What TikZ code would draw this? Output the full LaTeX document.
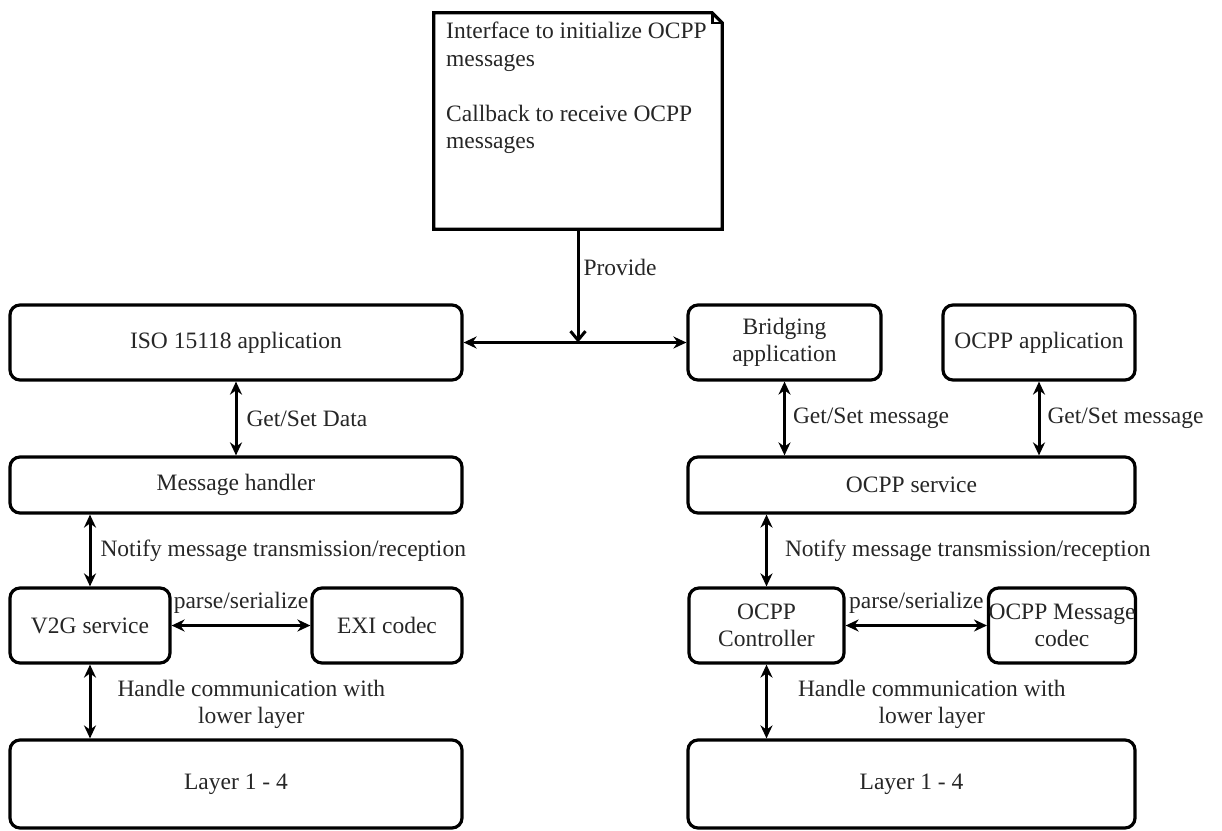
\documentclass[tikz,border=0pt]{standalone}
\usepackage{fontspec}
\setmainfont{Liberation Serif}
\usetikzlibrary{arrows.meta}
\begin{document}
\begin{tikzpicture}[x=1pt,y=-1pt,
  every node/.style={font=\fontsize{23.5}{27.5}\selectfont, text=black!85},
  blk/.style={draw=black, line width=3.2pt, rounded corners=10pt, fill=white, align=center, inner sep=0pt},
  biarr/.style={line width=3pt, {Stealth[length=13pt,width=12pt]}-{Stealth[length=13pt,width=12pt]}},
  openarr/.style={line width=3pt, -{Straight Barb[length=9pt,width=15pt,line width=3pt]}},
  lbl/.style={inner sep=0pt, align=center}]
\useasboundingbox (0,0) rectangle (1222,830);

% note with folded corner
\node[minimum width=288pt, minimum height=216pt, inner sep=0pt] (note) at (578,121) {};
\draw[line width=3.2pt, line join=miter]
  (note.north west) -- ([xshift=-10pt]note.north east) -- ([yshift=-10pt]note.north east)
  -- (note.south east) -- (note.south west) -- cycle;
\draw[line width=2.6pt] ([xshift=-10pt]note.north east) -- ([xshift=-10pt,yshift=-10pt]note.north east)
  -- ([yshift=-10pt]note.north east);
\node[anchor=north west, align=left, inner sep=0pt] (notetext) at (446,22)
  {Interface to initialize OCPP\\messages\\[27.5pt]Callback to receive OCPP\\messages};

% ISO 15118 side
\node[blk, minimum width=452pt, minimum height=75pt] (iso) at (236,342.5) {ISO 15118 application};
\node[blk, minimum width=452pt, minimum height=56pt] (mh) at (236,485) {Message handler};
\node[blk, minimum width=160pt, minimum height=75pt] (v2g) at (90,625.5) {V2G service};
\node[blk, minimum width=150pt, minimum height=75pt] (exi) at (387,625.5) {EXI codec};
\node[blk, minimum width=452pt, minimum height=88pt] (lay1) at (236,784) {Layer 1 - 4};

% OCPP side
\node[blk, minimum width=193pt, minimum height=75pt] (bridge) at (784.5,342.5) {Bridging\\application};
\node[blk, minimum width=192pt, minimum height=75pt] (ocppapp) at (1039,342.5) {OCPP application};
\node[blk, minimum width=447pt, minimum height=56pt] (osvc) at (911.5,485) {OCPP service};
\node[blk, minimum width=155pt, minimum height=75pt] (ctrl) at (766.5,625.5) {OCPP\\Controller};
\node[blk, minimum width=146pt, minimum height=75pt] (codec) at (1062,625.5) {OCPP Message\\codec};
\node[blk, minimum width=447pt, minimum height=88pt] (lay2) at (911.5,784) {Layer 1 - 4};

% bridge link and the interface it receives
\coordinate (join) at (note.south |- iso.east);
\draw[biarr] (iso.east) -- (bridge.west);
\draw[openarr] (note.south) -- (join)
  node[pos=0.34, anchor=west, lbl, xshift=4pt] {Provide};

% vertical links, ISO side
\draw[biarr] (iso.south) -- (mh.north)
  node[midway, anchor=west, lbl, xshift=9pt] {Get/Set Data};
\draw[biarr] (v2g.north |- mh.south) -- (v2g.north)
  node[midway, anchor=west, lbl, xshift=9pt] {Notify message transmission/reception};
\draw[biarr] (v2g.south) -- (v2g.south |- lay1.north)
  node[midway, anchor=west, lbl, xshift=26pt, yshift=-3pt] {Handle communication with\\lower layer};
\draw[biarr] (v2g.east) -- (exi.west)
  node[midway, lbl, yshift=23pt] {parse/serialize};

% vertical links, OCPP side
\draw[biarr] (bridge.south) -- (bridge.south |- osvc.north)
  node[midway, anchor=west, lbl, xshift=7pt] {Get/Set message};
\draw[biarr] (ocppapp.south) -- (ocppapp.south |- osvc.north)
  node[midway, anchor=west, lbl, xshift=7pt] {Get/Set message};
\draw[biarr] (ctrl.north |- osvc.south) -- (ctrl.north)
  node[midway, anchor=west, lbl, xshift=17pt] {Notify message transmission/reception};
\draw[biarr] (ctrl.south) -- (ctrl.south |- lay2.north)
  node[midway, anchor=west, lbl, xshift=30pt, yshift=-3pt] {Handle communication with\\lower layer};
\draw[biarr] (ctrl.east) -- (codec.west)
  node[midway, lbl, yshift=23pt] {parse/serialize};
\end{tikzpicture}
\end{document}
